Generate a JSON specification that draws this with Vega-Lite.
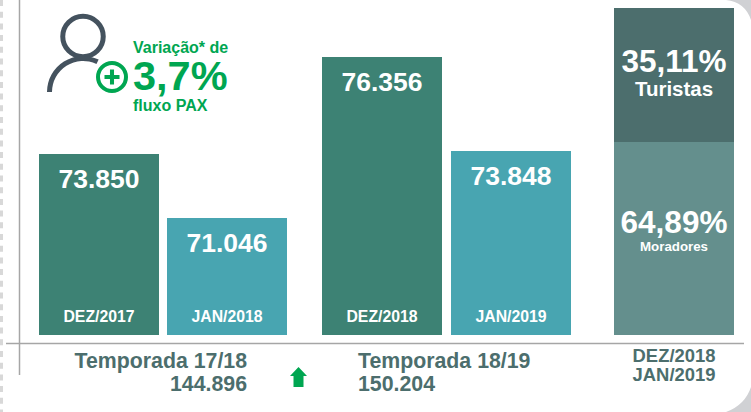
{
"$schema":"https://vega.github.io/schema/vega-lite/v6.json",
"width":751,"height":412,"padding":0,"autosize":{"type":"none"},"background":"#ffffff",
"config":{"view":{"stroke":null},"text":{"font":"Liberation Sans","fontWeight":"bold","baseline":"middle","align":"center"}},
"datasets":{
"pax":[
{"ordem":1,"mes":"DEZ/2017","tipo":"DEZ","passageiros":73850,"rotulo":"73.850"},
{"ordem":2,"mes":"JAN/2018","tipo":"JAN","passageiros":71046,"rotulo":"71.046"},
{"ordem":3,"mes":"DEZ/2018","tipo":"DEZ","passageiros":76356,"rotulo":"76.356"},
{"ordem":4,"mes":"JAN/2019","tipo":"JAN","passageiros":73848,"rotulo":"73.848"}],
"temporadas":[
{"ordem":2,"temporada":"Temporada 17/18","total":"144.896"},
{"ordem":3,"temporada":"Temporada 18/19","total":"150.204"}],
"perfil":[
{"ordem":5,"segmento":"Moradores","pilha":1,"percentual":64.89,"rotulo":"64,89%"},
{"ordem":5,"segmento":"Turistas","pilha":2,"percentual":35.11,"rotulo":"35,11%"}],
"nota":[{"variacao":"3,7%"}]
},
"resolve":{"scale":{"x":"independent","y":"independent","color":"independent"}},
"layer":[
{"data":{"name":"nota"},
"layer":[
{"mark":{"type":"rule","stroke":"#d8d8d8","strokeWidth":3,"strokeDash":[6,5.7]},"encoding":{"x":{"datum":1.5,"type":"quantitative","scale":{"domain":[0,751],"range":[0,751],"nice":false},"axis":null},"y":{"datum":0,"type":"quantitative","scale":{"domain":[0,412],"range":[0,412],"nice":false},"axis":null},"y2":{"datum":412}}},
{"mark":{"type":"rule","stroke":"#a6a6a6","strokeWidth":1.5},"encoding":{"x":{"datum":19.5,"type":"quantitative"},"y":{"datum":0,"type":"quantitative"},"y2":{"datum":375}}},
{"mark":{"type":"rule","stroke":"#a6a6a6","strokeWidth":1.5},"encoding":{"x":{"datum":6,"type":"quantitative"},"x2":{"datum":744},"y":{"datum":343.5,"type":"quantitative"}}},
{"mark":{"type":"point","filled":true,"fill":"#d0d1d4","stroke":null,"size":625,"opacity":1,"shape":"M-1,-0.8 L1,-0.8 L1,0.8 Q0.52,-0.64 -1,-0.8 Z"},"encoding":{"x":{"datum":738.5,"type":"quantitative"},"y":{"datum":10,"type":"quantitative"}}},
{"mark":{"type":"point","filled":true,"fill":"#d0d1d4","stroke":null,"size":625,"opacity":1,"shape":"M-1,1 L1,1 L1,-1 Q0.52,0.45 -1,1 Z"},"encoding":{"x":{"datum":738.5,"type":"quantitative"},"y":{"datum":399.5,"type":"quantitative"}}},
{"mark":{"type":"point","filled":false,"stroke":"#44525e","strokeWidth":5,"size":1640,"opacity":1},"encoding":{"x":{"datum":83,"type":"quantitative"},"y":{"datum":36.5,"type":"quantitative"}}},
{"mark":{"type":"arc","fill":"#44525e","theta":-1.57,"theta2":0.45,"radius":36,"radius2":31},"encoding":{"x":{"datum":83,"type":"quantitative"},"y":{"datum":92,"type":"quantitative"}}},
{"mark":{"type":"point","filled":false,"stroke":"#00a651","strokeWidth":4,"size":784,"opacity":1},"encoding":{"x":{"datum":112,"type":"quantitative"},"y":{"datum":77,"type":"quantitative"}}},
{"mark":{"type":"point","filled":true,"fill":"#00a651","stroke":null,"size":225,"opacity":1,"shape":"M-0.27,-1 L0.27,-1 L0.27,-0.27 L1,-0.27 L1,0.27 L0.27,0.27 L0.27,1 L-0.27,1 L-0.27,0.27 L-1,0.27 L-1,-0.27 L-0.27,-0.27 Z"},"encoding":{"x":{"datum":112,"type":"quantitative"},"y":{"datum":77,"type":"quantitative"}}},
{"mark":{"type":"point","filled":true,"fill":"#00a651","stroke":null,"size":400,"opacity":1,"shape":"M0,-1 L0.85,-0.1 L0.5,-0.1 L0.5,1 L-0.5,1 L-0.5,-0.1 L-0.85,-0.1 Z"},"encoding":{"x":{"datum":298.5,"type":"quantitative"},"y":{"datum":377,"type":"quantitative"}}},
{"mark":{"type":"text","text":"Variação* de","fontSize":16,"fill":"#00a651","align":"left"},"encoding":{"x":{"datum":133,"type":"quantitative"},"y":{"datum":47.5,"type":"quantitative"}}},
{"mark":{"type":"text","fontSize":41.5,"fill":"#00a651","align":"left"},"encoding":{"text":{"field":"variacao"},"x":{"datum":133,"type":"quantitative"},"y":{"datum":78,"type":"quantitative"}}},
{"mark":{"type":"text","text":"fluxo PAX","fontSize":16,"fill":"#00a651","align":"left"},"encoding":{"x":{"datum":133,"type":"quantitative"},"y":{"datum":106,"type":"quantitative"}}}
]},
{"layer":[
{"data":{"name":"pax"},"mark":{"type":"bar","width":120,"orient":"vertical"},"encoding":{
"x":{"field":"ordem","type":"quantitative","axis":null,"scale":{"domain":[0,1,2,3,4,5,6],"range":[6,99,227,382,511,674,744],"nice":false,"zero":false}},
"y":{"field":"passageiros","type":"quantitative","axis":null,"stack":null,"scale":{"domain":[0,71046,73848,73850,76356],"range":[335,218,151,154,57],"nice":false}},
"color":{"field":"tipo","type":"nominal","legend":null,"scale":{"domain":["DEZ","JAN"],"range":["#3d8274","#48a5b1"]}}}},
{"data":{"name":"pax"},"mark":{"type":"text","fontSize":26.5,"fill":"#ffffff","dy":26},"encoding":{"x":{"field":"ordem","type":"quantitative"},"y":{"field":"passageiros","type":"quantitative"},"text":{"field":"rotulo"}}},
{"data":{"name":"pax"},"mark":{"type":"text","fontSize":15.8,"fill":"#ffffff","dy":-18},"encoding":{"x":{"field":"ordem","type":"quantitative"},"y":{"datum":0,"type":"quantitative"},"text":{"field":"mes"}}},
{"data":{"name":"temporadas"},"transform":[{"filter":"datum.ordem==2"}],"layer":[
{"mark":{"type":"text","fontSize":21.3,"fill":"#4c6e6d","align":"right","dx":20,"dy":27},"encoding":{"x":{"field":"ordem","type":"quantitative"},"y":{"datum":0,"type":"quantitative"},"text":{"field":"temporada"}}},
{"mark":{"type":"text","fontSize":21.3,"fill":"#4c6e6d","align":"right","dx":20,"dy":50},"encoding":{"x":{"field":"ordem","type":"quantitative"},"y":{"datum":0,"type":"quantitative"},"text":{"field":"total"}}}]},
{"data":{"name":"temporadas"},"transform":[{"filter":"datum.ordem==3"}],"layer":[
{"mark":{"type":"text","fontSize":21.3,"fill":"#4c6e6d","align":"left","dx":-24,"dy":27},"encoding":{"x":{"field":"ordem","type":"quantitative"},"y":{"datum":0,"type":"quantitative"},"text":{"field":"temporada"}}},
{"mark":{"type":"text","fontSize":21.3,"fill":"#4c6e6d","align":"left","dx":-24,"dy":50},"encoding":{"x":{"field":"ordem","type":"quantitative"},"y":{"datum":0,"type":"quantitative"},"text":{"field":"total"}}}]}
]},
{"data":{"name":"perfil"},
"transform":[{"stack":"percentual","groupby":["ordem"],"sort":[{"field":"pilha","order":"ascending"}],"as":["base","topo"]}],
"layer":[
{"mark":{"type":"bar","width":120,"orient":"vertical"},"encoding":{
"x":{"field":"ordem","type":"quantitative","axis":null,"scale":{"domain":[0,1,2,3,4,5,6],"range":[6,99,227,382,511,674,744],"nice":false,"zero":false}},
"y":{"field":"base","type":"quantitative","axis":null,"stack":null,"scale":{"domain":[0,64.89,100],"range":[335,142,8],"nice":false}},
"y2":{"field":"topo"},
"color":{"field":"segmento","type":"nominal","legend":null,"scale":{"domain":["Moradores","Turistas"],"range":["#648f8d","#4c6e6d"]}}}},
{"transform":[{"filter":"datum.segmento=='Turistas'"}],"layer":[
{"mark":{"type":"text","fontSize":31.5,"fill":"#ffffff","dy":55},"encoding":{"x":{"field":"ordem","type":"quantitative"},"y":{"field":"topo","type":"quantitative"},"text":{"field":"rotulo"}}},
{"mark":{"type":"text","fontSize":20.5,"fill":"#ffffff","dy":82},"encoding":{"x":{"field":"ordem","type":"quantitative"},"y":{"field":"topo","type":"quantitative"},"text":{"field":"segmento"}}}]},
{"transform":[{"filter":"datum.segmento=='Moradores'"}],"layer":[
{"mark":{"type":"text","fontSize":31.5,"fill":"#ffffff","dy":82},"encoding":{"x":{"field":"ordem","type":"quantitative"},"y":{"field":"topo","type":"quantitative"},"text":{"field":"rotulo"}}},
{"mark":{"type":"text","fontSize":13.3,"fill":"#ffffff","dy":105},"encoding":{"x":{"field":"ordem","type":"quantitative"},"y":{"field":"topo","type":"quantitative"},"text":{"field":"segmento"}}},
{"mark":{"type":"text","fontSize":18.4,"fill":"#4c6e6d","text":"DEZ/2018","dy":214},"encoding":{"x":{"field":"ordem","type":"quantitative"},"y":{"field":"topo","type":"quantitative"}}},
{"mark":{"type":"text","fontSize":18.4,"fill":"#4c6e6d","text":"JAN/2019","dy":233},"encoding":{"x":{"field":"ordem","type":"quantitative"},"y":{"field":"topo","type":"quantitative"}}}]}
]}
]
}
